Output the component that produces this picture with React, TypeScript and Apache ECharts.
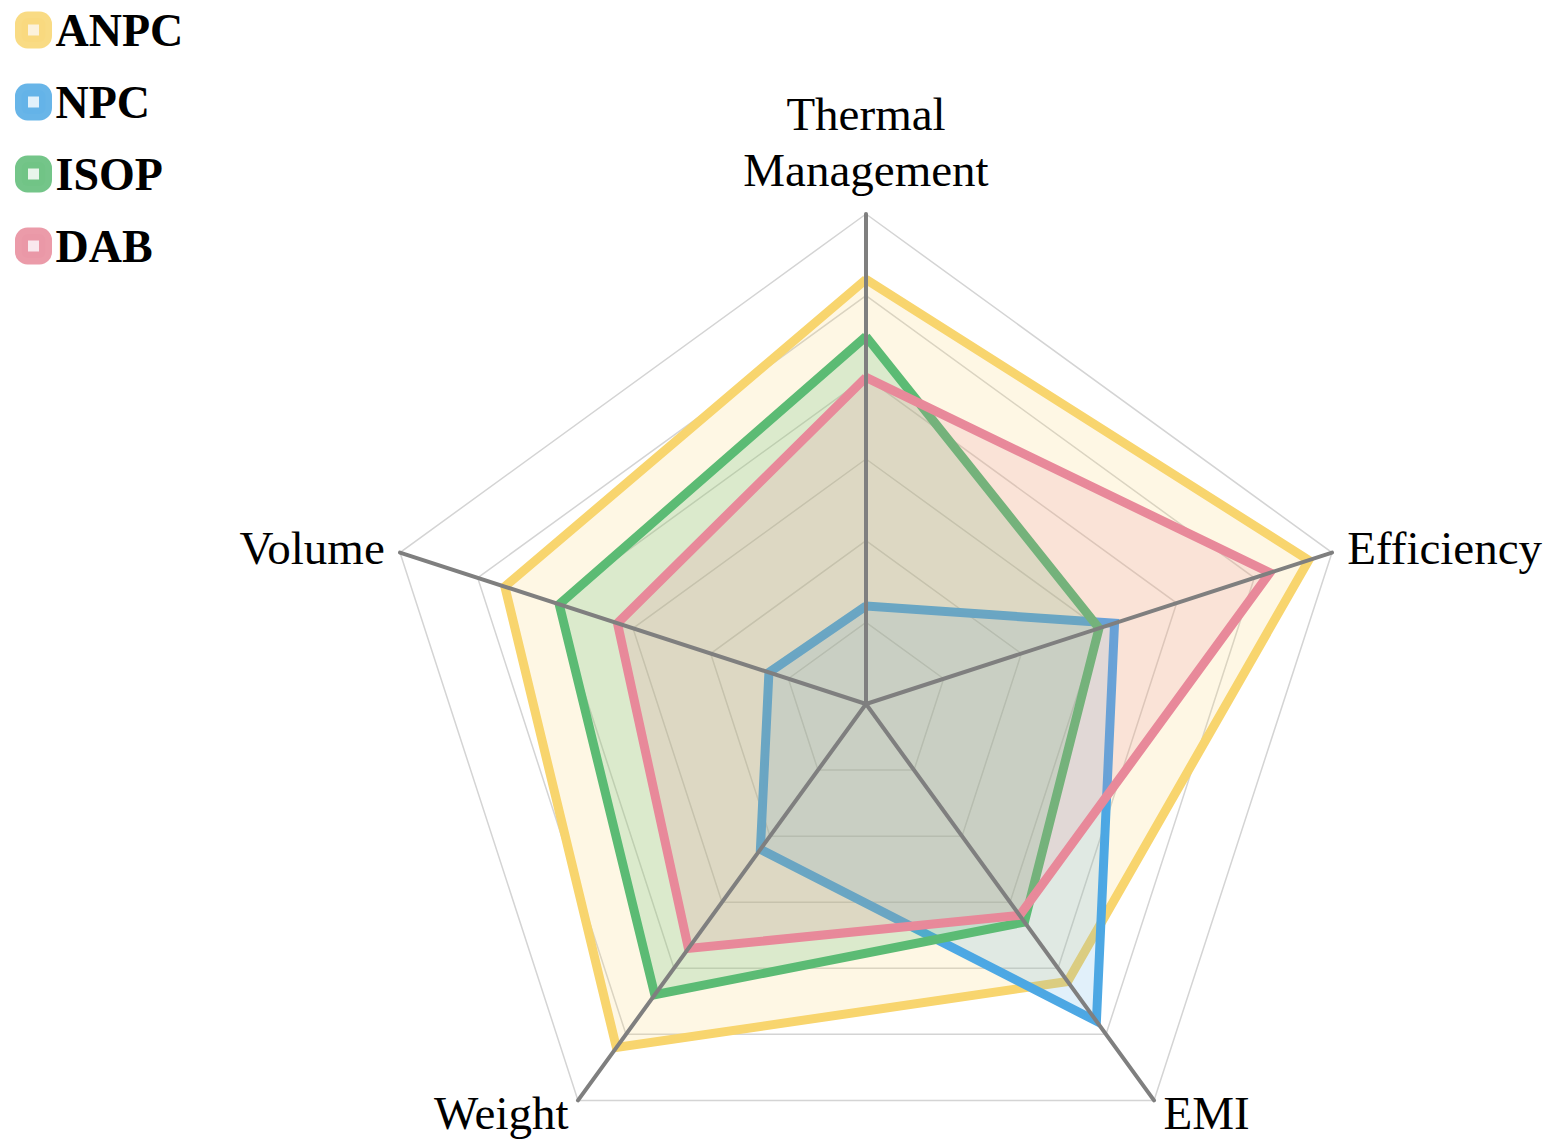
import React, { useEffect, useRef } from 'react';
import * as echarts from 'echarts';

// ---- data ----
const indicatorNames = ['Thermal\nManagement', 'Volume', 'Weight', 'EMI', 'Efficiency'];
const axisMax = 6;
const seriesNames = ['ANPC', 'NPC', 'ISOP', 'DAB'];
const anpcValues = [5.2, 4.65, 5.2, 4.2, 5.7];
const npcValues = [1.2, 1.25, 2.2, 4.8, 3.2];
const isopValues = [4.5, 3.95, 4.4, 3.3, 3.0];
const dabValues = [4.0, 3.2, 3.7, 3.2, 5.2];

const lineColors = ['#F8D56E', '#4DA8E4', '#5CBB74', '#E8899A'];
const fillColors = [
  'rgba(248,213,110,0.27)',
  'rgba(77,168,228,0.24)',
  'rgba(92,187,116,0.3)',
  'rgba(232,137,154,0.26)',
];
const legendInner = ['#FCF0D6', '#DCEEFA', '#E4F3E8', '#F8E4EA'];

const FONT = '"Liberation Serif", "Times New Roman", serif';

export default function App() {
  const ref = useRef<HTMLDivElement>(null);
  useEffect(() => {
    if (!ref.current) return;
    const chart = echarts.init(ref.current, null, { renderer: 'svg' });
    const allValues = [anpcValues, npcValues, isopValues, dabValues];
    const radarCommon = {
      center: [866, 704],
      radius: 490,
      startAngle: 90,
      splitNumber: 6,
      shape: 'polygon',
      indicator: indicatorNames.map((n) => ({ name: n, min: 0, max: axisMax })),
    };
    chart.setOption({
      animation: false,
      backgroundColor: '#ffffff',
      legend: {
        orient: 'vertical',
        left: 10,
        top: 0,
        itemWidth: 24,
        itemHeight: 24,
        itemGap: 22,
        selectedMode: false,
        textStyle: {
          fontFamily: FONT,
          fontWeight: 'bold',
          fontSize: 46,
          color: '#000',
          lineHeight: 50,
          padding: [0, 0, 0, 5],
        },
        data: seriesNames.map((n, i) => ({
          name: n,
          icon: 'roundRect',
          itemStyle: {
            color: legendInner[i],
            borderColor: lineColors[i],
            borderWidth: 13,
            opacity: 0.85,
          },
        })),
      },
      radar: [
        {
          ...radarCommon,
          z: 0,
          axisNameGap: 16,
          axisName: {
            fontFamily: FONT,
            fontSize: 47,
            color: '#000',
            lineHeight: 56,
          },
          axisLine: { show: false },
          splitLine: { lineStyle: { color: '#D4D4D4', width: 1.5 } },
          splitArea: { show: false },
          axisTick: { show: false },
          axisLabel: { show: false },
        },
        {
          ...radarCommon,
          z: 5,
          axisName: { show: false },
          axisLine: { show: true, lineStyle: { color: '#7F7F7F', width: 4 } },
          splitLine: { show: false },
          splitArea: { show: false },
          axisTick: { show: false },
          axisLabel: { show: false },
        },
      ],
      series: [
        {
          type: 'radar',
          radarIndex: 0,
          z: 2,
          symbol: 'none',
          data: seriesNames.map((n, i) => ({
            name: n,
            value: allValues[i],
            lineStyle: { color: lineColors[i], width: 9, join: 'miter' },
            itemStyle: { color: lineColors[i] },
            areaStyle: { color: fillColors[i] },
          })),
        },
      ],
    });
    return () => chart.dispose();
  }, []);
  return (
    <div
      ref={ref}
      style={{ position: 'fixed', left: 0, top: 0, width: 1557, height: 1146 }}
    />
  );
}
